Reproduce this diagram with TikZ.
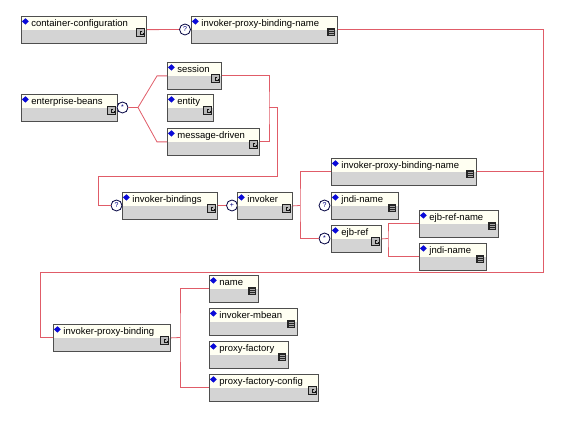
\documentclass[tikz,border=0pt]{standalone}
\usepackage{fontspec}
\setmainfont{Liberation Sans}
\usetikzlibrary{positioning}
\definecolor{wire}{RGB}{224,92,104}
\definecolor{cream}{RGB}{255,255,242}
\definecolor{band}{RGB}{212,212,212}
\definecolor{frame}{RGB}{78,78,78}
\definecolor{bullet}{RGB}{10,10,215}
\exhyphenpenalty=10000
\hyphenpenalty=10000

\begin{document}
\begin{tikzpicture}[x=1pt, y=-1pt,
    elem/.style={draw=frame, line width=0.8pt, fill=cream, anchor=north west, inner xsep=10pt, inner ysep=1.5pt,
      text width=#1, text height=9pt, text depth=15pt, align=left,
      font=\fontsize{9.5}{11}\selectfont,
      path picture={
        \fill[band] ([yshift=-14pt]path picture bounding box.north west) rectangle (path picture bounding box.south east);
        \fill[bullet] ([shift={(4pt,-5pt)}]path picture bounding box.north west) +(0,3.2pt) -- +(3.4pt,0) -- +(0,-3.2pt) -- +(-3.4pt,0) -- cycle;}},
    occur/.style={circle, draw=black!75!blue, line width=0.8pt, fill=white, minimum size=11pt, inner sep=0pt, text=blue!50!black, font=\fontsize{7}{7}\selectfont},
    wire line/.style={draw=wire, line width=0.8pt}]
    \useasboundingbox (0,0) rectangle (571,422);

    % top row
    \node[elem=105pt] (cc) at (21,16) {container-configuration};
    \node[occur] (opt1) at (185,29.5) {?};
    \node[elem=126pt] (ipbn) at (191,16) {invoker-proxy-binding-name};

    % enterprise beans
    \node[elem=76pt] (eb) at (21,94) {enterprise-beans};
    \node[occur] (ch1) at (122.5,107.5) {*};
    \node[elem=34pt] (session) at (167,62) {session};
    \node[elem=26pt] (entity) at (167,94) {entity};
    \node[elem=72pt] (msgd) at (167,128) {message-driven};

    % invoker bindings
    \node[elem=75pt] (ib) at (122,192) {invoker-bindings};
    \node[occur] (opt2) at (116.5,205.5) {?};
    \node[occur] (plus) at (232,205.5) {+};
    \node[elem=35pt] (inv) at (237,192) {invoker};
    \node[elem=125pt] (ipbn2) at (331,158) {invoker-proxy-binding-name};
    \node[elem=47pt] (jn) at (331,192) {jndi-name};
    \node[occur] (opt3) at (324.5,205.5) {?};
    \node[elem=30pt] (ejb) at (331,225) {ejb-ref};
    \node[occur] (ch2) at (324.5,238.5) {*};
    \node[elem=59pt] (ern) at (419,210) {ejb-ref-name};
    \node[elem=47pt] (jn2) at (419,243) {jndi-name};

    % proxy binding
    \node[elem=97pt] (ipb) at (53,324) {invoker-proxy-binding};
    \node[elem=29pt] (nm) at (209,275) {name};
    \node[elem=68pt] (mb) at (209,308) {invoker-mbean};
    \node[elem=59pt] (pf) at (209,341) {proxy-factory};
    \node[elem=89pt] (pfc) at (209,374) {proxy-factory-config};

    \coordinate (rx) at (543,28);
    \coordinate (bus) at (40,272);
    \coordinate (j1) at (138,107.5);
    \coordinate (fan) at (157,107.5);
    \coordinate (c1) at (269,107.5);
    \coordinate (drop) at (277,176);
    \coordinate (lp) at (98,176);
    \coordinate (sp) at (300,205.5);
    \coordinate (sp2) at (388,238.5);
    \coordinate (sp3) at (180,337.5);

    \draw[wire line] (cc) -- (opt1);
    \draw[wire line] (ipbn.east) -- (ipbn.east -| rx) -- (rx |- bus) -- (bus) |- (ipb.west);
    \draw[wire line] (ipbn2.east) -- (ipbn2.east -| rx);
    \draw[wire line] (ch1) -- (j1) -- (fan |- session.west) -- (session.west);
    \draw[wire line] (j1) -- (fan |- msgd.west) -- (msgd.west);
    \draw[wire line] (session.east) -| (c1) |- (msgd.east);
    \draw[wire line] (c1) -| (drop) -- (lp) |- (opt2.west);
    \draw[wire line] (ib) -- (plus);
    \draw[wire line] (inv.east) -- (sp);
    \draw[wire line] (ipbn2.west) -| (sp) |- (ch2.west);
    \draw[wire line] (ejb.east) -- (sp2);
    \draw[wire line] (ern.west) -| (sp2) |- (jn2.west);
    \draw[wire line] (ipb.east) -- (sp3);
    \draw[wire line] (nm.west) -| (sp3) |- (pfc.west);

    % type icons
    \foreach \n in {cc,eb,session,entity,msgd,ib,inv,ejb,ipb,pfc} {
      \filldraw[fill=gray!55, draw=gray!25!black, line width=0.4pt] ([shift={(-10.5pt,7.5pt)}]\n.south east) rectangle ++(8pt,8pt);
      \draw[gray!15!black, line width=0.5pt] ([shift={(-4.5pt,13pt)}]\n.south east) -- ++(-2.5pt,0) -- ++(0,-3.5pt) -- ++(3pt,0) -- ++(0,1.5pt);
    }
    \foreach \n in {ipbn,ipbn2,jn,ern,jn2,nm,mb,pf} {
      \fill[gray!30!black] ([shift={(-10.5pt,7.5pt)}]\n.south east) rectangle ++(8pt,8pt);
      \foreach \h in {10,12,14}
        \draw[gray!70, line width=0.4pt] ([shift={(-9pt,\h pt)}]\n.south east) -- ++(5pt,0);
    }
\end{tikzpicture}
\end{document}
